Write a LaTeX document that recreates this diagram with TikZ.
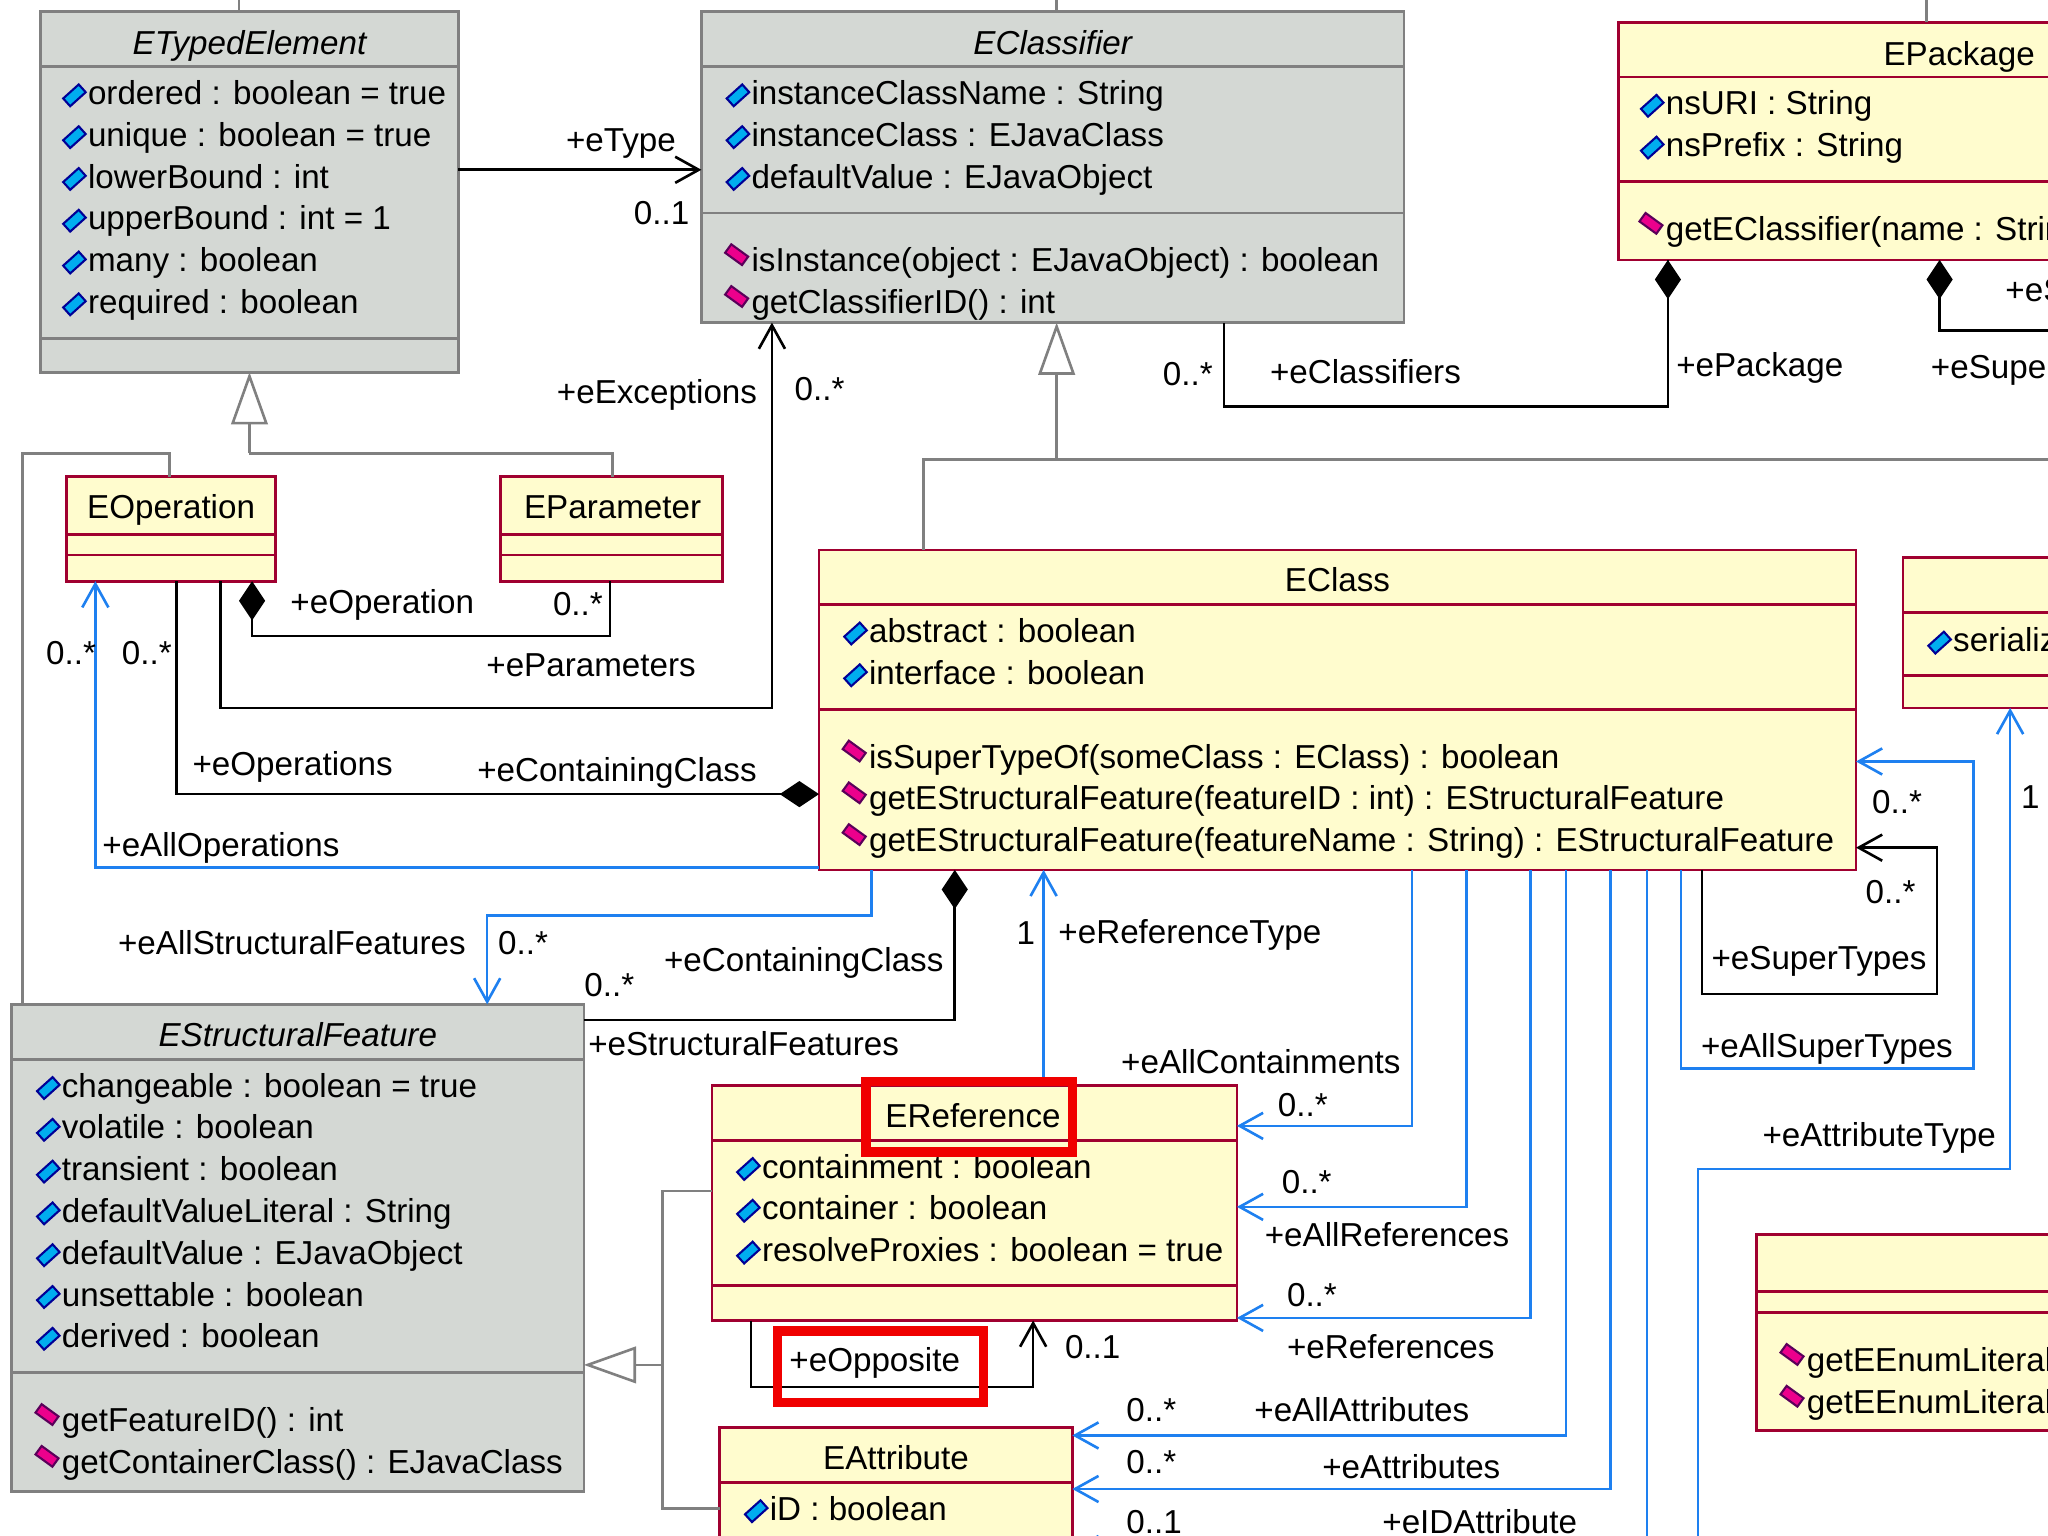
\documentclass[tikz,border=0pt]{standalone}
\usepackage{fontspec}
\setmainfont{Liberation Sans}
\usetikzlibrary{arrows.meta,fit,calc}
\definecolor{umlgray}{RGB}{212,216,212}
\definecolor{umlgrayline}{RGB}{128,128,128}
\definecolor{umlyellow}{RGB}{255,252,206}
\definecolor{umlred}{RGB}{160,0,48}
\definecolor{umlblue}{RGB}{30,128,240}
\definecolor{hlred}{RGB}{240,0,0}
\definecolor{icondark}{RGB}{0,0,150}
\definecolor{opdark}{RGB}{90,0,90}
\newcommand{\umlfont}{\fontsize{12.7}{16}\selectfont}
\tikzset{
  classbox/.style={fit={#1}, inner sep=0, outer sep=0, line width=1pt},
  graybox/.style={classbox={#1}, draw=umlgrayline, fill=umlgray},
  yellowbox/.style={classbox={#1}, draw=umlred, fill=umlyellow},
  member/.style={inner sep=0, anchor=base west},
  title/.style={inner sep=0, anchor=base},
  abstract/.style={title, font=\umlfont\itshape},
  assoc/.style={line width=1pt, black},
  blueassoc/.style={line width=1pt, umlblue},
  gen/.style={line width=1pt, umlgrayline},
  navi/.style={-{Straight Barb[length=9pt,width=10pt,line width=1pt]}},
  compstart/.style={{Diamond[length=15pt,width=10pt]}-},
  compend/.style={-{Diamond[length=15pt,width=10pt]}},
  inherit/.style={-{Triangle[length=20pt,width=14pt,fill=white,line width=1pt]}},
  highlight/.style={draw=hlred, line width=3.5pt},
  attricon/.pic={\filldraw[fill=cyan, draw=icondark, line width=.8pt, rotate=42] (-8,-4) rectangle (8,4);},
  opicon/.pic={\filldraw[fill=magenta, draw=opdark, line width=.8pt, rotate=-36] (-8,-4) rectangle (8,4);}
}
% name, x, first baseline, entries
\newcommand{\attrs}[4]{%
  \foreach \memb [count=\i] in {#4} {
    \pic at ({#2-10},{#3+32*(\i-1)-7}) {attricon};
    \node[member] (#1-a\i) at (#2,{#3+32*(\i-1)}) {\memb};
  }
}
\newcommand{\opers}[4]{%
  \foreach \memb [count=\i] in {#4} {
    \pic at ({#2-11},{#3+32*(\i-1)-13}) {opicon};
    \node[member] (#1-o\i) at (#2,{#3+32*(\i-1)}) {\memb};
  }
}

\begin{document}
\begin{tikzpicture}[x=0.5pt, y=-0.5pt, font=\umlfont]
\fill[white] (0,0) rectangle (1568,1176);
\path[use as bounding box, clip] (0,0) rectangle (1568,1176);

\node[graybox={(31,9) (351,285)}] (etyped) {};
\node[graybox={(537,9) (1075,247)}] (eclassifier) {};
\node[yellowbox={(1239,17) (1761,199)}] (epackage) {};
\node[yellowbox={(51,365) (211,445)}] (eoperation) {};
\node[yellowbox={(383,365) (553,445)}] (eparameter) {};
\node[yellowbox={(627,421) (1421,666)}] (eclass) {};
\node[yellowbox={(1457,427) (1800,542)}] (edatatype) {};
\node[graybox={(9,769) (447,1142)}] (estructural) {};
\node[yellowbox={(545,831) (947,1011)}] (ereference) {};
\node[yellowbox={(551,1093) (821,1240)}] (eattribute) {};
\node[yellowbox={(1345,945) (1800,1095)}] (eenum) {};

\foreach \b/\y in {etyped/51, etyped/259, eclassifier/51, eclassifier/163, estructural/811, estructural/1051}
  \draw[umlgrayline, line width=1pt] (\b.west |- 0,\y) -- (\b.east |- 0,\y);
\foreach \b/\y in {epackage/59, epackage/139, eoperation/409, eoperation/425, eparameter/409, eparameter/425,
  eclass/463, eclass/543, edatatype/469, edatatype/517, ereference/873, ereference/984, eattribute/1135,
  eattribute/1200, eenum/989, eenum/1005}
  \draw[umlred, line width=1pt] (\b.west |- 0,\y) -- (\b.east |- 0,\y);

\node[abstract] (etyped-t) at (191,42) {ETypedElement};
\node[abstract] (eclassifier-t) at (806,42) {EClassifier};
\node[title] (epackage-t) at (1500,50) {EPackage};
\node[title] (eoperation-t) at (131,397) {EOperation};
\node[title] (eparameter-t) at (469,397) {EParameter};
\node[title] (eclass-t) at (1024,453) {EClass};
\node[abstract] (estructural-t) at (228,801) {EStructuralFeature};
\node[title] (ereference-t) at (745,863) {EReference};
\node[title] (eattribute-t) at (686,1125) {EAttribute};

\attrs{etyped}{67}{80}{ordered : boolean = true, unique : boolean = true, lowerBound : int, upperBound : int = 1, many : boolean, required : boolean}
\attrs{eclassifier}{575}{80}{instanceClassName : String, instanceClass : EJavaClass, defaultValue : EJavaObject}
\opers{eclassifier}{575}{208}{isInstance(object : EJavaObject) : boolean, getClassifierID() : int}
\attrs{epackage}{1275}{88}{nsURI : String, nsPrefix : String}
\opers{epackage}{1275}{184}{getEClassifier(name : String) : EClassifier}
\attrs{eclass}{665}{492}{abstract : boolean, interface : boolean}
\opers{eclass}{665}{588}{isSuperTypeOf(someClass : EClass) : boolean, getEStructuralFeature(featureID : int) : EStructuralFeature, getEStructuralFeature(featureName : String) : EStructuralFeature}
\attrs{edatatype}{1495}{499}{serializable : boolean = true}
\attrs{estructural}{47}{840}{changeable : boolean = true, volatile : boolean, transient : boolean, defaultValueLiteral : String, defaultValue : EJavaObject, unsettable : boolean, derived : boolean}
\opers{estructural}{47}{1096}{getFeatureID() : int, getContainerClass() : EJavaClass}
\attrs{ereference}{583}{902}{containment : boolean, container : boolean, resolveProxies : boolean = true}
\attrs{eattribute}{589}{1164}{iD : boolean}
\opers{eenum}{1383}{1050}{getEEnumLiteral(name : String) : EEnumLiteral, getEEnumLiteral(value : int) : EEnumLiteral}

\draw[gen] (etyped.north -| 183,0) -- (183,-20);
\draw[gen] (eclassifier.north -| 809,0) -- (809,-20);
\draw[gen] (epackage.north -| 1475,0) -- (1475,-20);
\draw[gen] (eoperation.north -| 130,0) |- (17,347) -- (estructural.north -| 17,0);
\draw[gen] (eparameter.north -| 469,0) |- (191,347);
\draw[gen, inherit] (191,347) -- (etyped.south -| 191,0);
\draw[gen] (eclass.north -| 707,0) |- (1600,352);
\draw[gen, inherit] (809,352) -- (eclassifier.south -| 809,0);
\draw[gen] (ereference.west |- 0,912) -| (507,1155) -- (eattribute.west |- 0,1155);
\draw[gen, inherit] (507,1045) -- (estructural.east |- 0,1045);

\draw[assoc, navi] (etyped.east |- 0,130) -- (eclassifier.west |- 0,130);
\draw[assoc, compstart] (eoperation.south -| 193,0) |- (467,487) -- (eparameter.south -| 467,0);
\draw[assoc, navi] (eoperation.south -| 169,0) |- (591,542) -- (eclassifier.south -| 591,0);
\draw[assoc, compend] (eoperation.south -| 135,0) |- (eclass.west |- 0,608);
\draw[assoc] (epackage.south -| 1277,0) |- (937,311) -- (eclassifier.south -| 937,0);
\draw[assoc, compstart] (epackage.south -| 1277,0) -- (1277,240);
\draw[assoc, compstart] (epackage.south -| 1485,0) |- (1600,253);
\draw[assoc, navi] (eclass.south -| 1303,0) |- (1483,761) |- (eclass.east |- 0,649);
\draw[assoc, compstart] (eclass.south -| 731,0) |- (estructural.east |- 0,781);
\draw[assoc, navi] (ereference.south -| 575,0) |- (791,1062) -- (ereference.south -| 791,0);

\coordinate (attrtype-end) at (1300,1200);
\draw[blueassoc, navi] (eclass.west |- 0,664) -| (eoperation.south -| 73,0);
\draw[blueassoc, navi] (eclass.south -| 667,0) |- (373,701) -- (estructural.north -| 373,0);
\draw[blueassoc, navi] (ereference.north -| 799,0) -- (eclass.south -| 799,0);
\draw[blueassoc, navi] (eclass.south -| 1081,0) |- (ereference.east |- 0,862);
\draw[blueassoc, navi] (eclass.south -| 1123,0) |- (ereference.east |- 0,924);
\draw[blueassoc, navi] (eclass.south -| 1172,0) |- (ereference.east |- 0,1009);
\draw[blueassoc, navi] (eclass.south -| 1199,0) |- (eattribute.east |- 0,1099);
\draw[blueassoc, navi] (eclass.south -| 1233,0) |- (eattribute.east |- 0,1140);
\draw[blueassoc, navi] (eclass.south -| 1261,0) |- (eattribute.east |- 0,1186);
\draw[blueassoc, navi] (eclass.south -| 1287,0) |- (1511,818) |- (eclass.east |- 0,583);
\draw[blueassoc, navi] (attrtype-end) |- (1539,895) -- (edatatype.south -| 1539,0);

\foreach \x/\y/\memb [count=\i] in {433/116/+eType, 485/172/0..1, 426/309/+eExceptions, 608/307/0..*,
  222/470/+eOperation, 423/471/0..*, 372/518/+eParameters, 35/509/0..*, 93/509/0..*,
  147/594/+eOperations, 365/598/+eContainingClass, 78/656/+eAllOperations,
  890/295/0..*, 972/294/+eClassifiers, 1283/288/+ePackage, 1535/231/+eSubpackages, 1478/290/+eSuperPackage,
  1433/623/0..*, 1428/692/0..*, 1310/742/+eSuperTypes, 1302/810/+eAllSuperTypes, 1547/619/1,
  90/731/+eAllStructuralFeatures, 381/731/0..*, 447/763/0..*, 508/744/+eContainingClass, 450/808/+eStructuralFeatures,
  778/723/1, 810/722/+eReferenceType, 858/822/+eAllContainments, 978/855/0..*,
  981/914/0..*, 968/954/+eAllReferences, 985/1000/0..*, 985/1040/+eReferences,
  815/1040/0..1, 604/1050/+eOpposite, 862/1088/0..*, 960/1088/+eAllAttributes,
  862/1128/0..*, 1012/1132/+eAttributes, 862/1174/0..1, 1058/1174/+eIDAttribute, 1349/878/+eAttributeType}
  \node[member] (lab\i) at (\x,\y) {\memb};

\draw[highlight] (663,828) rectangle (821,882);
\draw[highlight] (595,1019) rectangle (753,1074);
\end{tikzpicture}
\end{document}
